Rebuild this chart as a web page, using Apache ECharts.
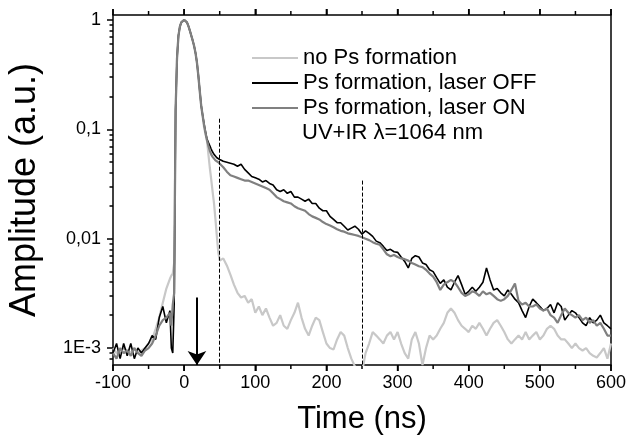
<!DOCTYPE html>
<html>
<head>
<meta charset="utf-8">
<script src="https://cdn.jsdelivr.net/npm/echarts@6/dist/echarts.min.js"></script>
<style>
  html, body { margin: 0; padding: 0; background: #fff; }
  #main { width: 639px; height: 437px; }
</style>
</head>
<body>
<div id="main"></div>
<script>
// sample times (ns)
const times = [
  -100, -95, -90, -85, -80, -75, -70, -65, -60, -55, -50, -45, -40, -35, -30, -25, -20,
  -18, -16, -14, -12, -10, -8, -6, -4, -2, 0, 2, 4, 6, 8, 10, 12, 14, 16, 18, 20,
  22, 24, 26, 28, 30, 32, 34, 36, 38, 40, 42, 44, 46, 48, 50,
  55, 60, 65, 70, 75, 80, 85, 90, 95, 100,
  105, 110, 115, 120, 125, 130, 135, 140, 145, 150,
  155, 160, 165, 170, 175, 180, 185, 190, 195, 200,
  205, 210, 215, 220, 225, 230, 235, 240, 245, 250,
  255, 260, 265, 270, 275, 280, 285, 290, 295, 300,
  305, 310, 315, 320, 325, 330, 335, 340, 345, 350,
  355, 360, 365, 370, 375, 380, 385, 390, 395, 400,
  405, 410, 415, 420, 425, 430, 435, 440, 445, 450,
  455, 460, 465, 470, 475, 480, 485, 490, 495, 500,
  505, 510, 515, 520, 525, 530, 535, 540, 545, 550,
  555, 560, 565, 570, 575, 580, 585, 590, 595, 600
]

// no Ps formation
const noPs = [
  0.0010, 0.0009, 0.00092, 0.0010, 0.00095, 0.0009, 0.0010, 0.0009, 0.00095, 0.0010, 0.0011, 0.0012, 0.0015, 0.0019, 0.0026, 0.0035, 0.0043,
  0.0046, 0.0048, 0.0060, 0.15, 0.45, 0.72, 0.87, 0.95, 0.99, 1.0, 0.99, 0.95, 0.88, 0.80, 0.72, 0.65, 0.57, 0.49, 0.40, 0.30,
  0.215, 0.16, 0.13, 0.105, 0.09, 0.08, 0.06, 0.045, 0.035, 0.027, 0.021, 0.015, 0.0105, 0.0075, 0.0063,
  0.0066, 0.0057, 0.0047, 0.0038, 0.0032, 0.0029, 0.0030, 0.0026, 0.0028, 0.0021,
  0.0024, 0.0020, 0.0023, 0.0019, 0.0016, 0.0017, 0.0020, 0.0016, 0.0015, 0.0018,
  0.0021, 0.0026, 0.0019, 0.0015, 0.0013, 0.0016, 0.0019, 0.0018, 0.0014, 0.0011,
  0.0010, 0.00097, 0.0012, 0.0014, 0.0013, 0.0010, 0.0008, 0.00068, 0.0006, 0.0006,
  0.0009, 0.0011, 0.0014, 0.0013, 0.0012, 0.0011, 0.0013, 0.0014, 0.0012, 0.0014,
  0.0011, 0.0009, 0.0008, 0.0012, 0.0014, 0.0011, 0.0007, 0.0010, 0.0013, 0.0012,
  0.0013, 0.0015, 0.0017, 0.0021, 0.0023, 0.0021, 0.0018, 0.0016, 0.0015, 0.0014,
  0.0016, 0.0015, 0.0017, 0.0015, 0.0013, 0.0015, 0.0017, 0.0018, 0.0016, 0.0014,
  0.0012, 0.0011, 0.0012, 0.0013, 0.0012, 0.0014, 0.0012, 0.0013, 0.0014, 0.0012,
  0.0013, 0.0015, 0.0016, 0.0015, 0.0013, 0.0012, 0.0012, 0.0011, 0.0010, 0.0011,
  0.0010, 0.00095, 0.0010, 0.0009, 0.00085, 0.00082, 0.0009, 0.0010, 0.0008, 0.0011
]

// Ps formation, laser OFF
const laserOff = [
  0.0009, 0.0011, 0.0008, 0.0011, 0.00085, 0.0011, 0.0008, 0.0010, 0.0009, 0.0010, 0.0011, 0.0013, 0.0012, 0.0019, 0.0024, 0.0017, 0.0022,
  0.0010, 0.0009, 0.0025, 0.15, 0.45, 0.72, 0.87, 0.95, 0.99, 1.0, 0.99, 0.95, 0.88, 0.80, 0.72, 0.65, 0.58, 0.50, 0.41, 0.31,
  0.225, 0.165, 0.135, 0.112, 0.095, 0.082, 0.076, 0.071, 0.066, 0.062, 0.059, 0.057, 0.055, 0.054, 0.053,
  0.051, 0.050, 0.049, 0.048, 0.046, 0.048, 0.043, 0.040, 0.037, 0.036,
  0.035, 0.033, 0.034, 0.032, 0.031, 0.028, 0.027, 0.028, 0.026, 0.027,
  0.024, 0.024, 0.023, 0.022, 0.023, 0.021, 0.021, 0.019, 0.018, 0.018,
  0.016, 0.015, 0.014, 0.014, 0.013, 0.012, 0.0125, 0.013, 0.0122, 0.011,
  0.0118, 0.0112, 0.0105, 0.0095, 0.0092, 0.0085, 0.0078, 0.0080, 0.0076, 0.0075,
  0.0068, 0.0062, 0.0054, 0.0066, 0.0070, 0.0068, 0.0060, 0.0058, 0.0052, 0.0050,
  0.0044, 0.0039, 0.0042, 0.0036, 0.0034, 0.0040, 0.0046, 0.0038, 0.0031, 0.0033,
  0.0036, 0.0033, 0.0036, 0.0040, 0.0054, 0.0042, 0.0034, 0.0035, 0.0032, 0.0030,
  0.0034, 0.0031, 0.0028, 0.0026, 0.0022, 0.0019, 0.0024, 0.0028, 0.0026, 0.0024,
  0.0022, 0.0023, 0.0025, 0.0021, 0.0026, 0.0024, 0.0018, 0.0020, 0.0022, 0.0021,
  0.0019, 0.0017, 0.0016, 0.0019, 0.0017, 0.0018, 0.0020, 0.0017, 0.0016, 0.0015
]

// Ps formation, laser ON
const laserOn = [
  0.0009, 0.0008, 0.0010, 0.0009, 0.00095, 0.00085, 0.0010, 0.0009, 0.00085, 0.00095, 0.0010, 0.0011, 0.0013, 0.0016, 0.0018, 0.0019, 0.0021,
  0.0016, 0.0025, 0.0032, 0.15, 0.45, 0.72, 0.87, 0.95, 0.99, 1.0, 0.99, 0.95, 0.88, 0.80, 0.72, 0.65, 0.58, 0.50, 0.41, 0.31,
  0.225, 0.165, 0.135, 0.11, 0.093, 0.08, 0.071, 0.064, 0.059, 0.056, 0.054, 0.052, 0.051, 0.050, 0.049,
  0.045, 0.041, 0.038, 0.037, 0.036, 0.035, 0.034, 0.034, 0.033, 0.032,
  0.031, 0.030, 0.029, 0.028, 0.026, 0.024, 0.023, 0.022, 0.0215, 0.021,
  0.0198, 0.019, 0.0185, 0.018, 0.0168, 0.016, 0.0155, 0.015, 0.0142, 0.0136,
  0.0132, 0.0127, 0.0122, 0.0118, 0.0116, 0.0112, 0.0110, 0.0108, 0.0106, 0.0103,
  0.0100, 0.0097, 0.0093, 0.0090, 0.0088, 0.0080, 0.0072, 0.0069, 0.0071, 0.0068,
  0.0066, 0.0065, 0.0063, 0.0060, 0.0058, 0.0056, 0.0055, 0.0052, 0.0048, 0.0045,
  0.0040, 0.0034, 0.0038, 0.0040, 0.0042, 0.0040, 0.0036, 0.0032, 0.0030, 0.0031,
  0.0033, 0.0032, 0.0030, 0.0033, 0.0031, 0.0032, 0.0030, 0.0028, 0.0027, 0.0028,
  0.0030, 0.0034, 0.0039, 0.0027, 0.0025, 0.0026, 0.0024, 0.0024, 0.0025, 0.0023,
  0.0022, 0.0023, 0.0020, 0.0019, 0.0017, 0.0020, 0.0023, 0.0021, 0.0020, 0.0019,
  0.0020, 0.0018, 0.0019, 0.0017, 0.0018, 0.0016, 0.0017, 0.0015, 0.0013, 0.0013
]

const seriesNames = ['no Ps formation', 'Ps formation, laser OFF', 'Ps formation, laser ON']
const noteText = 'UV+IR \u03bb=1064 nm'

// axis ranges and ticks
const xMin = -100, xMax = 600, xStep = 100
const xTicks = [-100, 0, 100, 200, 300, 400, 500, 600]
const xMinorTicks = [-50, 50, 150, 250, 350, 450, 550]
const yMin = 0.0007, yMax = 1.11
const yLabels = { '-3': '1E-3', '-2': '0,01', '-1': '0,1', '0': '1' }

// annotations: dashed markers [time, top amplitude], arrow [time, top amplitude]
const dashMarks = [[50, 0.125], [250, 0.034]]
const arrowMark = [18, 0.0029]

const lg = v => Math.log10(v)
const LOG_MIN = lg(yMin)
const LOG_MAX = lg(yMax)

const toPairs = vals => times.map((t, i) => [t, lg(vals[i])])

// minor log ticks 2..9 in every decade
const minorLogTicks = []
for (let d = -4; d <= 0; d++) {
  for (let k = 2; k <= 9; k++) {
    const v = d + Math.log10(k)
    if (v > LOG_MIN && v < LOG_MAX) minorLogTicks.push(v)
  }
}

const FONT = 'Liberation Sans, Arial, Helvetica, sans-serif'
const axisLine = { show: true, onZero: false, lineStyle: { color: '#000', width: 1.5 } }
const noLine = { show: false, onZero: false }
const tickStyle = { color: '#000', width: 1.5 }

const noteEl = {
  type: 'text',
  left: 302,
  top: 122,
  style: { text: noteText, fontSize: 22, fill: '#000', fontFamily: FONT }
}

const chart = echarts.init(document.getElementById('main'))

chart.setOption({
  animation: false,
  backgroundColor: '#fff',
  textStyle: { fontFamily: FONT },
  grid: { left: 113, right: 28, top: 15, bottom: 72, containLabel: false, outerBoundsMode: 'none' },
  legend: {
    orient: 'vertical',
    left: 252,
    top: 47,
    padding: 0,
    icon: 'rect',
    itemWidth: 46,
    itemHeight: 2,
    itemGap: 3,
    textStyle: { fontSize: 22, color: '#000', fontFamily: FONT, lineHeight: 22 },
    data: seriesNames
  },
  graphic: [noteEl],
  xAxis: [
    {
      type: 'value',
      min: xMin, max: xMax, interval: xStep,
      name: 'Time (ns)',
      nameLocation: 'middle',
      nameGap: 39,
      nameTextStyle: { fontSize: 31, color: '#000', fontFamily: FONT },
      axisLine: axisLine,
      axisTick: { show: true, length: 6, customValues: xTicks, lineStyle: tickStyle },
      axisLabel: { fontSize: 18, color: '#000', margin: 9, fontFamily: FONT },
      splitLine: { show: false }
    },
    {
      type: 'value',
      position: 'top',
      min: xMin, max: xMax, interval: xStep,
      axisLine: axisLine,
      axisTick: { show: true, length: 6, customValues: xTicks, lineStyle: tickStyle },
      axisLabel: { show: false },
      splitLine: { show: false }
    }
  ],
  yAxis: [
    {
      type: 'value',
      min: LOG_MIN, max: LOG_MAX,
      name: 'Amplitude (a.u.)',
      nameLocation: 'middle',
      nameGap: 70,
      nameTextStyle: { fontSize: 36, color: '#000', fontFamily: FONT },
      axisLine: axisLine,
      axisTick: { show: true, length: 6, customValues: [-3, -2, -1, 0], lineStyle: tickStyle },
      axisLabel: {
        fontSize: 18, color: '#000', margin: 12, fontFamily: FONT,
        customValues: [-3, -2, -1, 0],
        formatter: v => yLabels[String(Math.round(v))]
      },
      splitLine: { show: false }
    },
    {
      type: 'value',
      position: 'left',
      min: LOG_MIN, max: LOG_MAX,
      axisLine: noLine,
      axisTick: { show: true, length: 3.5, customValues: minorLogTicks, lineStyle: tickStyle },
      axisLabel: { show: false },
      splitLine: { show: false }
    },
    {
      type: 'value',
      position: 'right',
      min: LOG_MIN, max: LOG_MAX,
      axisLine: axisLine,
      axisTick: { show: false },
      axisLabel: { show: false },
      splitLine: { show: false }
    }
  ],
  series: [
    {
      name: seriesNames[0],
      type: 'line',
      symbol: 'none',
      color: '#c8c8c8',
      lineStyle: { color: '#c8c8c8', width: 2.2 },
      data: toPairs(noPs),
      markLine: {
        silent: true,
        animation: false,
        label: { show: false },
        data: [
          ...dashMarks.map(([t, v]) => [
            { coord: [t, lg(v)], symbol: 'none', lineStyle: { type: [4, 2], color: '#000', width: 1 } },
            { coord: [t, LOG_MIN], symbol: 'none' }
          ]),
          [
            { coord: [arrowMark[0], lg(arrowMark[1])], symbol: 'none', lineStyle: { type: 'solid', color: '#000', width: 2 } },
            { coord: [arrowMark[0], LOG_MIN], symbol: 'arrow', symbolSize: 14, itemStyle: { color: '#000' } }
          ]
        ]
      }
    },
    {
      name: seriesNames[1],
      type: 'line',
      symbol: 'none',
      color: '#000',
      lineStyle: { color: '#000', width: 1.6 },
      data: toPairs(laserOff)
    },
    {
      name: seriesNames[2],
      type: 'line',
      symbol: 'none',
      color: '#808080',
      lineStyle: { color: '#808080', width: 2.2 },
      data: toPairs(laserOn)
    }
  ]
})

// outward tick marks on the top and bottom frame, placed through the x scale
const yBottom = chart.convertToPixel({ yAxisIndex: 0 }, LOG_MIN)
const yTop = chart.convertToPixel({ yAxisIndex: 0 }, LOG_MAX)
const tickEls = []
const addTicks = (values, len) => {
  values.forEach(t => {
    const px = chart.convertToPixel({ xAxisIndex: 0 }, t)
    tickEls.push({ type: 'line', silent: true, shape: { x1: px, y1: yBottom, x2: px, y2: yBottom + len }, style: { stroke: '#000', lineWidth: 1.5 } })
    tickEls.push({ type: 'line', silent: true, shape: { x1: px, y1: yTop, x2: px, y2: yTop - len }, style: { stroke: '#000', lineWidth: 1.5 } })
  })
}
addTicks(xTicks, 6)
addTicks(xMinorTicks, 4)

chart.setOption({ graphic: [noteEl, ...tickEls] })
</script>
</body>
</html>
